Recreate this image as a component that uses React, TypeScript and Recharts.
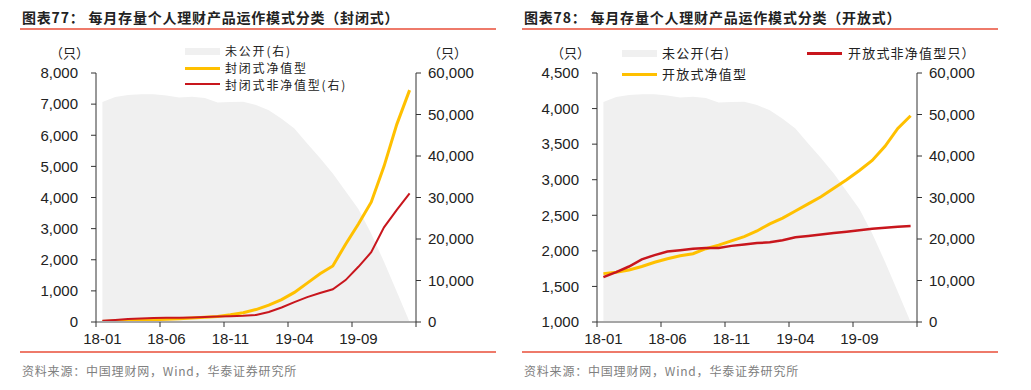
import React from 'react';
import { Area, ComposedChart, Line, XAxis, YAxis } from 'recharts';

// 25 months, 18-01 .. 20-01
const MONTHS = [
  '18-01', '18-02', '18-03', '18-04', '18-05', '18-06', '18-07', '18-08', '18-09', '18-10', '18-11', '18-12',
  '19-01', '19-02', '19-03', '19-04', '19-05', '19-06', '19-07', '19-08', '19-09', '19-10', '19-11', '19-12', '20-01',
];
const X_LABELS = ['18-01', '18-06', '18-11', '19-04', '19-09'];

// 未公开 (right axis), shared by both panels
const UNDISCLOSED = [
  53000, 54200, 54700, 54900, 54900, 54600, 54100, 54300, 54000, 52900, 53000, 53100,
  52300, 51000, 49000, 46600, 43000, 39500, 35800, 31500, 27200, 21300, 14500, 7300, 0,
];

// 封闭式净值型 (left axis)
const CLOSED_NAV = [
  20, 30, 45, 60, 75, 90, 105, 125, 150, 180, 230, 300,
  400, 540, 720, 950, 1250, 1550, 1800, 2500, 3150, 3850, 5000, 6350, 7450,
];
// 封闭式非净值型 (right axis)
const CLOSED_NON_NAV = [
  300, 500, 700, 850, 950, 1000, 1050, 1100, 1200, 1300, 1400, 1500,
  1700, 2400, 3500, 4800, 6000, 7000, 7900, 10100, 13300, 16800, 22800, 27000, 31000,
];

// 开放式净值型 / 开放式非净值型 (left axis)
const OPEN_NAV = [
  1680, 1700, 1730, 1780, 1840, 1890, 1930, 1960, 2030, 2080, 2140, 2200,
  2280, 2380, 2460, 2560, 2660, 2760, 2880, 3000, 3130, 3270, 3470, 3720, 3900,
];
const OPEN_NON_NAV = [
  1630, 1700, 1780, 1880, 1940, 1990, 2010, 2030, 2040, 2040, 2070, 2090,
  2110, 2120, 2150, 2190, 2210, 2230, 2250, 2270, 2290, 2310, 2325, 2340, 2350,
];

const LEFT_TICKS_CLOSED = [0, 1000, 2000, 3000, 4000, 5000, 6000, 7000, 8000];
const LEFT_TICKS_OPEN = [1000, 1500, 2000, 2500, 3000, 3500, 4000, 4500];
const RIGHT_TICKS = [0, 10000, 20000, 30000, 40000, 50000, 60000];
const X_TICKS = [0, 5, 10, 15, 20, 25];

const YELLOW = '#ffc000';
const RED = '#c8161d';
const GREY_AREA = '#f0f0f0';
const RULE = '#ee7a6a';
const CJK = '"Noto Sans CJK SC", sans-serif';
const NUM = '"Liberation Sans", Arial, sans-serif';

const BAND = 320 / 25;

const rows = MONTHS.map((month, i) => ({
  x: i + 0.5,
  month,
  undisclosed: UNDISCLOSED[i],
  closedNav: CLOSED_NAV[i],
  closedNonNav: CLOSED_NON_NAV[i],
  openNav: OPEN_NAV[i],
  openNonNav: OPEN_NON_NAV[i],
}));

const fmt = (v: number) => v.toLocaleString('en-US');
const numTick = { fill: '#222', fontSize: 15, fontFamily: NUM };

function XTick(props: any) {
  const { x, y, payload } = props;
  const label = X_LABELS[payload.value / 5];
  if (!label) return null;
  return (
    <text x={x + BAND / 2} y={y} dy="0.71em" textAnchor="middle" fill="#222" fontSize={15} fontFamily={NUM}>
      {label}
    </text>
  );
}

type PanelProps = {
  left: number;
  leftDomain: [number, number];
  leftTicks: number[];
  series: Array<{ key: string; color: string; width: number; axis: 'l' | 'r' }>;
};

function Panel({ left, leftDomain, leftTicks, series }: PanelProps) {
  return (
    <div style={{ position: 'absolute', left, top: 0 }}>
      <ComposedChart width={515} height={390} data={rows} margin={{ top: 73, right: 19, bottom: 38, left: 0 }}>
        <XAxis
          type="number"
          dataKey="x"
          domain={[0, 25]}
          ticks={X_TICKS}
          interval={0}
          height={30}
          tickSize={5}
          tickMargin={6}
          axisLine={{ stroke: '#a6a6a6', strokeWidth: 2 }}
          tickLine={{ stroke: '#333' }}
          tick={(p: any) => <XTick {...p} />}
        />
        <YAxis
          yAxisId="l"
          domain={leftDomain}
          ticks={leftTicks}
          interval={0}
          width={96}
          tickSize={5}
          tickMargin={13}
          tickFormatter={fmt}
          tick={numTick}
          axisLine={{ stroke: '#333' }}
          tickLine={{ stroke: '#333' }}
        />
        <YAxis
          yAxisId="r"
          orientation="right"
          domain={[0, 60000]}
          ticks={RIGHT_TICKS}
          interval={0}
          width={80}
          tickSize={5}
          tickMargin={7}
          tickFormatter={fmt}
          tick={numTick}
          axisLine={{ stroke: '#333' }}
          tickLine={{ stroke: '#333' }}
        />
        <Area
          yAxisId="r"
          type="linear"
          dataKey="undisclosed"
          stroke="none"
          fill={GREY_AREA}
          fillOpacity={1}
          isAnimationActive={false}
        />
        {series.map((s) => (
          <Line
            key={s.key}
            yAxisId={s.axis}
            type="linear"
            dataKey={s.key}
            stroke={s.color}
            strokeWidth={s.width}
            dot={false}
            isAnimationActive={false}
          />
        ))}
      </ComposedChart>
    </div>
  );
}

function Txt({ x, y, children, size = 13, color = '#222', font = CJK, bold = false, spacing = 0 }: any) {
  return (
    <div
      style={{
        position: 'absolute',
        left: x,
        top: y - 7,
        height: 14,
        lineHeight: '14px',
        fontSize: size,
        color,
        fontFamily: font,
        fontWeight: bold ? 700 : 400,
        letterSpacing: spacing,
        whiteSpace: 'nowrap',
      }}
    >
      {children}
    </div>
  );
}

function Swatch({ x, y, w = 35, h, color }: any) {
  return <div style={{ position: 'absolute', left: x, top: y - h / 2, width: w, height: h, background: color }} />;
}

function Rule({ x, y, w }: any) {
  return <div style={{ position: 'absolute', left: x, top: y - 1, width: w, height: 2, background: RULE }} />;
}

const SOURCE = '资料来源：中国理财网，Wind，华泰证券研究所';

export default function App() {
  return (
    <div style={{ position: 'absolute', left: 0, top: 0, width: 1031, height: 390, background: '#fff', overflow: 'hidden' }}>
      <Panel
        left={0}
        leftDomain={[0, 8000]}
        leftTicks={LEFT_TICKS_CLOSED}
        series={[
          { key: 'closedNav', color: YELLOW, width: 3, axis: 'l' },
          { key: 'closedNonNav', color: RED, width: 2, axis: 'r' },
        ]}
      />
      <Panel
        left={501}
        leftDomain={[1000, 4500]}
        leftTicks={LEFT_TICKS_OPEN}
        series={[
          { key: 'openNav', color: YELLOW, width: 3, axis: 'l' },
          { key: 'openNonNav', color: RED, width: 2.5, axis: 'l' },
        ]}
      />

      {/* left panel decorations */}
      <Txt x={22} y={17} size={14} bold spacing={0.8}>图表77：&nbsp;每月存量个人理财产品运作模式分类（封闭式）</Txt>
      <Rule x={20} y={29} w={476} />
      <Txt x={50} y={53}>（只）</Txt>
      <Txt x={428} y={53}>（只）</Txt>
      <Swatch x={185} y={51} h={7} color={GREY_AREA} />
      <Txt x={225} y={51} size={12} spacing={1.8}>未公开(右)</Txt>
      <Swatch x={185} y={68} h={3} color={YELLOW} />
      <Txt x={225} y={68} size={12} spacing={1.8}>封闭式净值型</Txt>
      <Swatch x={185} y={84} h={2} color={RED} />
      <Txt x={225} y={85} size={12} spacing={1.8}>封闭式非净值型(右)</Txt>
      <Rule x={20} y={352} w={476} />
      <Txt x={22} y={371} size={12} color="#808080" spacing={0.8}>{SOURCE}</Txt>

      {/* right panel decorations */}
      <Txt x={524} y={17} size={14} bold spacing={0.8}>图表78：&nbsp;每月存量个人理财产品运作模式分类（开放式）</Txt>
      <Rule x={522} y={29} w={476} />
      <Txt x={551} y={53}>（只）</Txt>
      <Swatch x={622} y={53} h={7} color={GREY_AREA} />
      <Txt x={662} y={53} spacing={1.2}>未公开(右)</Txt>
      <Swatch x={622} y={74} h={3} color={YELLOW} />
      <Txt x={662} y={74} spacing={1.2}>开放式净值型</Txt>
      <Swatch x={807} y={53} h={3} color={RED} />
      <Txt x={848} y={53} spacing={1.2}>开放式非净值型只）</Txt>
      <Rule x={522} y={352} w={476} />
      <Txt x={524} y={371} size={12} color="#808080" spacing={0.8}>{SOURCE}</Txt>
    </div>
  );
}
